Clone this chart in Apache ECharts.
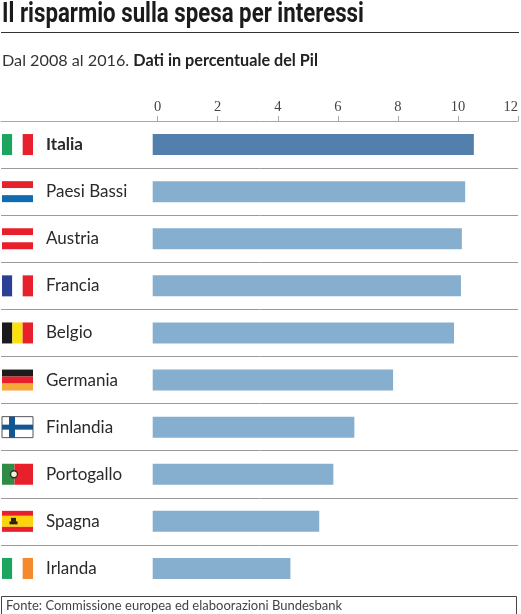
<!DOCTYPE html>
<html><head><meta charset="utf-8">
<style>html,body{margin:0;padding:0;background:#fff}#c{width:521px;height:614px}</style>
<script src="https://cdn.jsdelivr.net/npm/echarts@6/dist/echarts.min.js"></script>
</head><body><div id="c"></div>
<script>
const titleText = 'Il risparmio sulla spesa per interessi';
const subPlain = 'Dal 2008 al 2016. ';
const subBold = 'Dati in percentuale del Pil';
const sourceText = 'Fonte: Commissione europea ed elaboorazioni Bundesbank';
const categories = ['Italia','Paesi Bassi','Austria','Francia','Belgio','Germania','Finlandia','Portogallo','Spagna','Irlanda'];
const values = [10.53,10.24,10.13,10.1,9.87,7.84,6.55,5.85,5.38,4.42];
const tickValues = [0,2,4,6,8,10,12];
const flagDir = ['v','h','h','v','v','h','fi','pt','es','v'];
const flagColors = [
 ['#1CA55F','#ffffff','#E8202C'],['#E8202C','#ffffff','#0F6CB0'],['#E8202C','#ffffff','#E8202C'],
 ['#2B3F94','#ffffff','#E8202C'],['#1c1a1a','#FBE10F','#E8202C'],['#1c1a1a','#E8202C','#F7A83B'],
 ['#ffffff','#14568F'],['#2F8B45','#E8202C'],['#E8202C','#FBD40F','#E8202C'],['#1CA55F','#ffffff','#F58A2C']];
const unit = 361/12, plotLeft = 1, zeroX = 158, axisMin = -(zeroX-plotLeft)/unit, barStart = -5/unit;
const barLight = '#86AECE', barDark = '#527FAB';
const colorOf = i => i===0 ? barDark : barLight;

function bar(params, api){
  const i = api.value(1), a = api.coord([barStart,i]), b = api.coord([api.value(0),i]);
  return {type:'rect',shape:{x:a[0],y:a[1]-10.5,width:b[0]-a[0],height:21},style:{fill:colorOf(i)}};
}
function flag(params, api){
  const i = api.value(1), y = api.coord([0,i])[1], t = y-10.5, l = 2, w = 31, h = 21;
  const c = flagColors[i], d = flagDir[i], ch = [];
  const r = (x,yy,ww,hh,f,extra)=>ch.push({type:'rect',shape:{x,y:yy,width:ww,height:hh},style:Object.assign({fill:f},extra||{})});
  if(d==='v'){ c.forEach((f,k)=>r(l+k*w/3,t,w/3,h,f)); }
  else if(d==='h'){ c.forEach((f,k)=>r(l,t+k*h/3,w,h/3,f)); }
  else if(d==='fi'){ r(l,t,w,h,c[0],{stroke:'#555',lineWidth:1}); r(l+7,t,6,h,c[1]); r(l,t+8,w,5,c[1]); }
  else if(d==='pt'){ r(l,t,12.5,h,c[0]); r(l+12.5,t,w-12.5,h,c[1]); ch.push({type:'circle',shape:{cx:l+12,cy:y,r:3.5},style:{fill:'#F2EDE0',stroke:'#23391f',lineWidth:1.4}}); }
  else if(d==='es'){ r(l,t,w,5,c[0]); r(l,t+5,w,11,c[1]); r(l,t+16,w,5,c[2]); r(l+9,y-3.5,5,4,'#2a2313'); r(l+7.5,y,8,3,'#2a2313'); }
  return {type:'group',children:ch};
}

const chart = echarts.init(document.getElementById('c'));
chart.setOption({
  animation:false, backgroundColor:'#fff',
  title:[
   {text:'{a|'+subPlain+'}{b|'+subBold+'}',left:2,top:53,padding:0,textStyle:{fontWeight:'normal',rich:{
     a:{fontFamily:'Lato',fontWeight:'normal',fontSize:16.2,color:'#333'},b:{fontFamily:'Lato',fontWeight:'bold',fontSize:16.2,color:'#222'}}}},
   {text:sourceText,left:6,top:599,padding:0,textStyle:{fontFamily:'Lato',fontWeight:'normal',fontSize:13,color:'#444'}}
  ],
  grid:{left:plotLeft,top:121,width:518,height:471,containLabel:false},
  xAxis:{type:'value',position:'top',min:axisMin,max:12,
    axisLine:{show:true,lineStyle:{color:'#a8a8a8',width:1}},
    axisTick:{show:true,length:5,customValues:tickValues,lineStyle:{color:'#a8a8a8'}},
    axisLabel:{show:true,customValues:tickValues,margin:6,alignMaxLabel:'right',fontFamily:'Liberation Serif',fontSize:14.5,color:'#444'},
    splitLine:{show:false}},
  yAxis:{type:'category',inverse:true,data:categories.map((c,i)=>i===0?{value:c,textStyle:{fontWeight:'bold'}}:c),
    axisLine:{show:false},axisTick:{show:false},
    axisLabel:{inside:true,margin:45,align:'left',fontFamily:'Lato',fontSize:17,color:'#2a2a2a',interval:0,padding:[4,0,0,0]},
    splitLine:{show:true,showMinLine:false,showMaxLine:false,interval:0,lineStyle:{color:'#9a9a9a',width:1}}},
  series:[
   {type:'custom',name:'Risparmio',renderItem:bar,clip:false,encode:{x:0,y:1},data:values.map((v,i)=>[v,i])},
   {type:'custom',renderItem:flag,clip:false,silent:true,encode:{x:0,y:1},data:categories.map((c,i)=>[0,i])}
  ],
  graphic:[
   {type:'text',x:2,y:2,scaleX:0.824,style:{text:titleText,fontFamily:'Roboto',fontWeight:'bold',fontSize:27,fill:'#1c1a1a'}},
   {type:'line',shape:{x1:1,y1:32.5,x2:519,y2:32.5},style:{stroke:'#333',lineWidth:1}},
   {type:'rect',shape:{x:1.5,y:596.5,width:515,height:30},style:{fill:'none',stroke:'#444',lineWidth:1}}
  ]
});
</script></body></html>
